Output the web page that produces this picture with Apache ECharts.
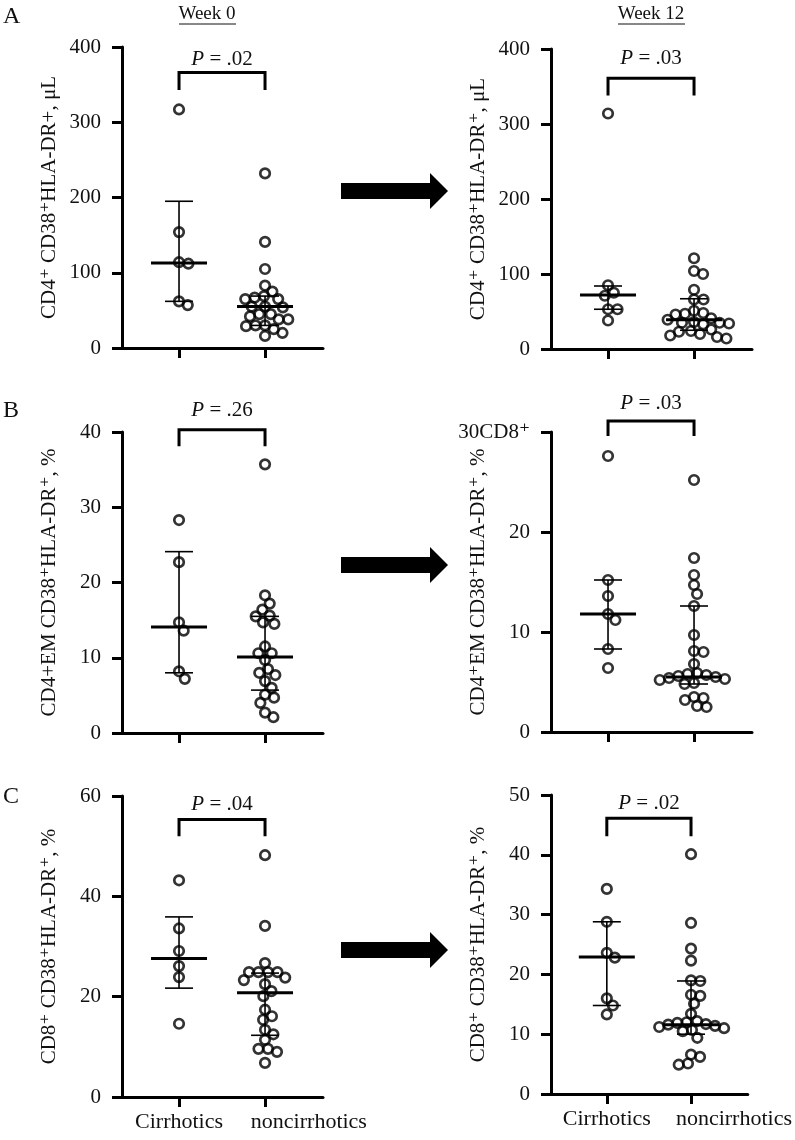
<!DOCTYPE html>
<html>
<head>
<meta charset="utf-8">
<script src="https://cdn.jsdelivr.net/npm/echarts@6/dist/echarts.min.js"></script>
<style>html,body{margin:0;padding:0;background:#fff}#c{width:795px;height:1140px}</style>
</head>
<body>
<div id="c"></div>
<script>
// ---------------- DATA ----------------
const categories = ['Cirrhotics', 'noncirrhotics'];
const weekTitles = ['Week 0', 'Week 12'];
const panelLetters = ['A', 'B', 'C'];
const pValues = ['.02', '.03', '.26', '.03', '.04', '.02'];

// Panel A: CD4+ CD38+HLA-DR+, /µL
const A_w0_cirr = [317, 154, 114, 112, 62, 57];
const A_w0_non = [232, 141, 105, 83, 75, 69, 67, 65, 65, 55, 55, 54, 45, 45, 42, 38, 38, 30, 30, 29, 25, 20, 16];
const A_w12_cirr = [314, 85, 75, 71, 53, 53, 38];
const A_w12_non = [121, 104, 100, 79, 66, 66, 51, 48, 47, 46, 41, 39, 36, 35, 35, 34, 33, 26, 24, 23, 20, 18, 16, 14];
// [median, lower, upper]
const A_w0_stats = [[113, 62, 195], [55, 30, 69]];
const A_w12_stats = [[72, 53, 84], [39, 25, 67]];

// Panel B: CD4+EM CD38+HLA-DR+, %
const B_w0_cirr = [28.3, 22.7, 14.7, 13.6, 8.2, 7.2];
const B_w0_non = [35.7, 18.3, 17.2, 16.4, 15.6, 15.5, 14.7, 14.5, 11.5, 10.6, 10.6, 9.7, 8.5, 8.0, 7.7, 6.9, 6.0, 5.1, 4.7, 4.0, 2.7, 2.1];
const B_w12_cirr = [27.6, 15.2, 13.6, 11.8, 11.2, 8.3, 6.4];
const B_w12_non = [25.2, 17.4, 15.7, 14.7, 13.8, 12.6, 9.7, 8.1, 8.0, 6.8, 5.9, 5.8, 5.7, 5.6, 5.5, 5.4, 5.3, 5.2, 4.9, 4.8, 3.5, 3.4, 3.2, 2.6, 2.5];
const B_w0_stats = [[14.1, 8.0, 24.1], [10.1, 5.7, 15.5]];
const B_w12_stats = [[11.8, 8.3, 15.2], [5.5, 4.8, 12.6]];

// Panel C: CD8+ CD38+HLA-DR+, %
const C_w0_cirr = [43.2, 33.6, 29.1, 26.1, 23.9, 14.6];
const C_w0_non = [48.2, 34.1, 26.7, 24.9, 24.9, 24.9, 24.9, 23.8, 23.3, 22.5, 21.1, 20.1, 17.4, 16.1, 15.4, 13.4, 12.5, 11.4, 9.6, 9.6, 9.0, 6.8];
const C_w12_cirr = [34.3, 28.8, 23.6, 22.8, 16.0, 14.8, 13.3];
const C_w12_non = [40.1, 28.6, 24.3, 22.3, 19.0, 18.9, 16.6, 16.4, 15.1, 13.4, 12.2, 12.0, 11.9, 11.7, 11.6, 11.4, 11.2, 11.0, 10.7, 10.5, 9.4, 6.6, 6.2, 5.1, 4.9];
const C_w0_stats = [[27.6, 21.7, 35.9], [20.8, 12.3, 24.7]];
const C_w12_stats = [[22.9, 14.8, 28.8], [11.6, 10.0, 18.9]];

const yNames = [
  'CD4⁺ CD38⁺HLA-DR+, μL', 'CD4⁺ CD38⁺HLA-DR⁺, μL',
  'CD4+EM CD38⁺HLA-DR⁺, %', 'CD4⁺EM CD38⁺HLA-DR⁺, %',
  'CD8⁺ CD38⁺HLA-DR⁺, %', 'CD8⁺ CD38⁺HLA-DR⁺, %'
];

// ---------------- LAYOUT ----------------
const FONT = '"Liberation Serif", "DejaVu Serif", serif';
const X_MIN = 0.337, X_MAX = 2.674;
const GRID_W = 201;
const LABEL_POS = [1, 2.51]; // where the category names sit along the x axis
const panels = [
  {left: 122, top: 47, height: 301, max: 400, interval: 100, cirr: A_w0_cirr, non: A_w0_non, stats: A_w0_stats, bracket: [343, 366], pY: 384, bottom: false},
  {left: 551, top: 49, height: 300, max: 400, interval: 100, cirr: A_w12_cirr, non: A_w12_non, stats: A_w12_stats, bracket: [338, 361], pY: 387, bottom: false},
  {left: 122, top: 432, height: 301, max: 40, interval: 10, cirr: B_w0_cirr, non: B_w0_non, stats: B_w0_stats, bracket: [38.1, 40.3], pY: 42.9, bottom: false},
  {left: 551, top: 432, height: 300, max: 30, interval: 10, cirr: B_w12_cirr, non: B_w12_non, stats: B_w12_stats, bracket: [29.6, 31.1], pY: 32.9, bottom: false, topSuffix: 'CD8⁺'},
  {left: 122, top: 796, height: 301, max: 60, interval: 20, cirr: C_w0_cirr, non: C_w0_non, stats: C_w0_stats, bracket: [52, 55.3], pY: 58.3, bottom: true},
  {left: 551, top: 795, height: 299, max: 50, interval: 10, cirr: C_w12_cirr, non: C_w12_non, stats: C_w12_stats, bracket: [43.1, 46.1], pY: 48.5, bottom: true}
];

// deterministic beeswarm: horizontal offsets (px) so circles don't overlap
function swarm(vals, pxPerUnit, D) {
  const placed = [];
  const order = vals.map((v, i) => ({v, i})).sort((a, b) => b.v - a.v);
  const res = new Array(vals.length);
  for (const p of order) {
    const y = p.v * pxPerUnit;
    const cands = [0];
    for (const q of placed) {
      const dy = Math.abs(q.y - y);
      if (dy < D) {
        const dx = Math.sqrt(D * D - dy * dy);
        cands.push(q.x + dx, q.x - dx);
      }
    }
    cands.sort((a, b) => (Math.abs(a) - Math.abs(b)) || (b - a));
    let chosen = 0;
    for (const c of cands) {
      if (placed.every(q => (q.x - c) * (q.x - c) + (q.y - y) * (q.y - y) >= D * D - 1e-6)) { chosen = c; break; }
    }
    placed.push({x: chosen, y});
    res[p.i] = chosen;
  }
  return res;
}

const pxPerX = GRID_W / (X_MAX - X_MIN);
const grids = [], xAxes = [], yAxes = [], series = [];

panels.forEach((p, i) => {
  grids.push({left: p.left, top: p.top, width: GRID_W, height: p.height, containLabel: false});
  xAxes.push({
    type: 'value', gridIndex: i, min: X_MIN, max: X_MAX,
    splitLine: {show: false},
    axisLine: {show: true, onZero: false, lineStyle: {color: '#000', width: 3}},
    axisTick: {show: true, customValues: [1, 2], length: 10, lineStyle: {color: '#000', width: 3}},
    axisLabel: {show: p.bottom, customValues: LABEL_POS, showMinLabel: true, showMaxLabel: true, hideOverlap: false,
      margin: 14, color: '#111', fontFamily: FONT, fontSize: 22,
      formatter: v => (v < 1.5 ? categories[0] : categories[1])}
  });
  yAxes.push({
    type: 'value', gridIndex: i, min: 0, max: p.max, interval: p.interval,
    name: yNames[i], nameLocation: 'middle', nameGap: 62, nameRotate: 90, nameMoveOverlap: false,
    nameTextStyle: {color: '#111', fontFamily: FONT, fontSize: 21},
    splitLine: {show: false},
    axisLine: {show: true, lineStyle: {color: '#000', width: 3}},
    axisTick: {show: true, length: 10, lineStyle: {color: '#000', width: 3}},
    axisLabel: {color: '#111', fontFamily: FONT, fontSize: 21, margin: 21, showMinLabel: true, showMaxLabel: true,
      formatter: v => (p.topSuffix && v === p.max) ? (v + p.topSuffix) : String(v)}
  });
  const pxPerY = p.height / p.max;
  [p.cirr, p.non].forEach((vals, g) => {
    const off = swarm(vals, pxPerY, 9.5);
    series.push({
      type: 'scatter', xAxisIndex: i, yAxisIndex: i, z: 2,
      symbol: 'circle', symbolSize: 9.5,
      itemStyle: {color: 'rgba(255,255,255,0)', borderColor: '#000', borderWidth: 2.7},
      data: vals.map((v, k) => [g + 1 + off[k] / pxPerX, v]),
      silent: true, animation: false
    });
  });
  // median + error bars
  series.push({
    type: 'custom', xAxisIndex: i, yAxisIndex: i, z: 3, clip: false, animation: false, silent: true,
    data: p.stats.map((s, g) => [g + 1, s[0], s[1], s[2]]),
    encode: {x: 0, y: 1},
    renderItem: (params, api) => {
      const x = api.value(0);
      const m = api.coord([x, api.value(1)]);
      const lo = api.coord([x, api.value(2)]);
      const hi = api.coord([x, api.value(3)]);
      const st = {stroke: '#000', lineWidth: 1.6};
      return {type: 'group', children: [
        {type: 'line', shape: {x1: m[0], y1: lo[1], x2: m[0], y2: hi[1]}, style: st},
        {type: 'line', shape: {x1: m[0] - 14, y1: lo[1], x2: m[0] + 14, y2: lo[1]}, style: st},
        {type: 'line', shape: {x1: m[0] - 14, y1: hi[1], x2: m[0] + 14, y2: hi[1]}, style: st},
        {type: 'line', shape: {x1: m[0] - 28, y1: m[1], x2: m[0] + 28, y2: m[1]}, style: {stroke: '#000', lineWidth: 3}}
      ]};
    }
  });
  // significance bracket and P value
  series.push({
    type: 'custom', xAxisIndex: i, yAxisIndex: i, z: 3, clip: false, animation: false, silent: true,
    data: [[1.5, p.pY]],
    encode: {x: 0, y: 1},
    renderItem: (params, api) => {
      const a = api.coord([1, p.bracket[0]]);
      const b = api.coord([1, p.bracket[1]]);
      const c = api.coord([2, p.bracket[1]]);
      const d = api.coord([2, p.bracket[0]]);
      const t = api.coord([1.5, p.pY]);
      return {type: 'group', children: [
        {type: 'polyline', shape: {points: [a, b, c, d]}, style: {stroke: '#000', lineWidth: 3, fill: null}},
        {type: 'text', x: t[0], y: t[1], style: {
          text: '{i|P} = ' + pValues[i], fill: '#111', fontFamily: FONT, fontSize: 21,
          align: 'center', verticalAlign: 'middle',
          rich: {i: {fontStyle: 'italic', fontFamily: FONT, fontSize: 21, fill: '#111'}}
        }}
      ]};
    }
  });
});

// decorative graphics: titles, panel letters, arrows
const arrowCenters = [191, 565, 950];
const graphic = [];
[[207, 179, 236], [651, 618, 685]].forEach((w, k) => {
  graphic.push({type: 'text', x: w[0], y: 14, style: {text: weekTitles[k], fill: '#111', fontFamily: FONT, fontSize: 19, align: 'center', verticalAlign: 'middle'}});
  graphic.push({type: 'line', shape: {x1: w[1], y1: 24, x2: w[2], y2: 24}, style: {stroke: '#111', lineWidth: 1}});
});
[17, 411, 797].forEach((y, k) => {
  graphic.push({type: 'text', x: 3, y: y, style: {text: panelLetters[k], fill: '#111', fontFamily: FONT, fontSize: 24, align: 'left', verticalAlign: 'middle'}});
});
arrowCenters.forEach(cy => {
  graphic.push({type: 'polygon', shape: {points: [
    [341, cy - 8], [430, cy - 8], [430, cy - 18], [448, cy], [430, cy + 18], [430, cy + 8], [341, cy + 8]
  ]}, style: {fill: '#000'}});
});

const chart = echarts.init(document.getElementById('c'), null, {renderer: 'canvas'});
chart.setOption({
  backgroundColor: '#fff',
  animation: false,
  grid: grids, xAxis: xAxes, yAxis: yAxes, series: series, graphic: graphic
});
</script>
</body>
</html>
